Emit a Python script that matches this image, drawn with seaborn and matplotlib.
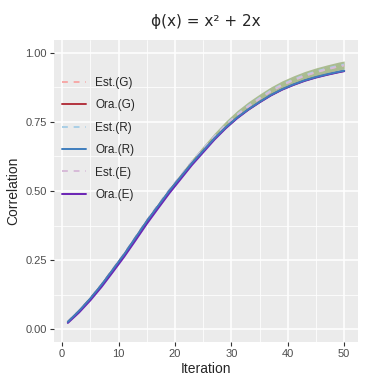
import numpy as np
import pandas as pd
import matplotlib
matplotlib.use("Agg")
import matplotlib.pyplot as plt
import seaborn as sns

# values
iteration = [1, 3, 5, 7, 9, 11, 13, 15, 17, 19, 21, 23, 25, 27, 29, 31, 33, 35, 37, 39, 41, 43, 45, 47, 49, 50]

ora_g = [0.025, 0.065, 0.110, 0.160, 0.215, 0.270, 0.330, 0.390, 0.445, 0.500, 0.550, 0.600, 0.645,
         0.690, 0.730, 0.765, 0.795, 0.822, 0.847, 0.868, 0.885, 0.900, 0.912, 0.922, 0.931, 0.935]
ora_r = [0.026, 0.066, 0.111, 0.161, 0.216, 0.271, 0.331, 0.391, 0.446, 0.501, 0.551, 0.601, 0.646,
         0.691, 0.731, 0.766, 0.796, 0.823, 0.848, 0.869, 0.886, 0.901, 0.913, 0.923, 0.932, 0.936]
ora_e = [0.022, 0.060, 0.104, 0.153, 0.207, 0.262, 0.321, 0.381, 0.437, 0.492, 0.543, 0.594, 0.640,
         0.686, 0.727, 0.763, 0.794, 0.821, 0.846, 0.867, 0.884, 0.899, 0.911, 0.921, 0.930, 0.934]

est_g = [0.026, 0.066, 0.111, 0.161, 0.217, 0.272, 0.332, 0.392, 0.448, 0.503, 0.554, 0.605, 0.651,
         0.697, 0.738, 0.775, 0.807, 0.835, 0.862, 0.884, 0.902, 0.918, 0.931, 0.942, 0.952, 0.956]
est_r = [0.026, 0.066, 0.111, 0.162, 0.217, 0.273, 0.333, 0.393, 0.449, 0.504, 0.555, 0.606, 0.653,
         0.698, 0.740, 0.777, 0.809, 0.837, 0.864, 0.886, 0.904, 0.920, 0.933, 0.944, 0.954, 0.958]
est_e = [0.025, 0.065, 0.110, 0.160, 0.216, 0.271, 0.331, 0.391, 0.447, 0.502, 0.553, 0.604, 0.650,
         0.696, 0.737, 0.774, 0.806, 0.834, 0.861, 0.883, 0.901, 0.917, 0.930, 0.941, 0.951, 0.955]

band_lo = [0.024, 0.064, 0.109, 0.159, 0.214, 0.269, 0.329, 0.389, 0.444, 0.499, 0.549, 0.599, 0.644,
           0.688, 0.728, 0.764, 0.795, 0.822, 0.848, 0.870, 0.888, 0.904, 0.917, 0.928, 0.938, 0.942]
band_hi = [0.027, 0.068, 0.113, 0.164, 0.220, 0.276, 0.337, 0.398, 0.455, 0.511, 0.563, 0.615, 0.663,
           0.710, 0.753, 0.791, 0.823, 0.851, 0.877, 0.899, 0.917, 0.933, 0.946, 0.957, 0.967, 0.971]

labels = ["Est.(G)", "Ora.(G)", "Est.(R)", "Ora.(R)", "Est.(E)", "Ora.(E)"]
colors = ["#F7A9A8", "#B3343F", "#A9CFE6", "#3F7EBD", "#D7BAD8", "#6B24B5"]
layers = [3.0, 4.0, 3.1, 4.2, 3.2, 4.1]

sns.set_theme(style="darkgrid")
plt.rcParams["font.family"] = ["Liberation Sans", "DejaVu Sans"]
plt.rcParams["axes.facecolor"] = "#EBEBEB"
plt.rcParams["grid.color"] = "white"

fig, ax = plt.subplots(figsize=(3.68, 3.85), dpi=100)
fig.subplots_adjust(left=54 / 368, right=358 / 368, top=1 - 40 / 385, bottom=1 - 342 / 385)

# ribbon around the estimates
ax.fill_between(iteration, band_lo, band_hi, color="#A3B787", alpha=0.9, lw=0, zorder=2)

series = [est_g, ora_g, est_r, ora_r, est_e, ora_e]
handles = {}
for name, vals, col, z in zip(labels, series, colors, layers):
    df = pd.DataFrame({"Iteration": iteration, "Correlation": vals})
    sns.lineplot(data=df, x="Iteration", y="Correlation", ax=ax, color=col,
                 lw=1.4, label=name, zorder=z)
    line = ax.get_lines()[-1]
    if name.startswith("Est"):
        line.set_dashes((3, 3))
    handles[name] = line

ax.set_xlim(-1.45, 52.45)
ax.set_ylim(-0.047, 1.047)
ax.set_xticks([0, 10, 20, 30, 40, 50])
ax.set_yticks([0.0, 0.25, 0.5, 0.75, 1.0])
ax.set_yticklabels(["0.00", "0.25", "0.50", "0.75", "1.00"])
ax.set_xticks([5, 15, 25, 35, 45], minor=True)
ax.set_yticks([0.125, 0.375, 0.625, 0.875], minor=True)
ax.grid(which="major", color="white", lw=1.1)
ax.grid(which="minor", color="white", lw=0.55)
for s in ax.spines.values():
    s.set_visible(False)
ax.tick_params(axis="both", which="major", length=3, width=0.8, color="#333333",
               labelsize=8, labelcolor="#4D4D4D", pad=2, bottom=True, left=True)
ax.tick_params(which="minor", length=0)

ax.set_xlabel("Iteration", fontsize=10, labelpad=2)
ax.set_ylabel("Correlation", fontsize=10, labelpad=4)
ax.set_title("ϕ(x) = x² + 2x", fontsize=11, pad=10, family=["DejaVu Sans"])

leg = ax.legend([handles[n] for n in labels], labels, loc="upper left",
                bbox_to_anchor=(0.0, 0.905), frameon=False, fontsize=8.5,
                handlelength=2.0, handletextpad=0.8, labelspacing=0.88,
                borderaxespad=0.3)
leg.set_zorder(5)

plt.savefig("out.png", dpi=100)
